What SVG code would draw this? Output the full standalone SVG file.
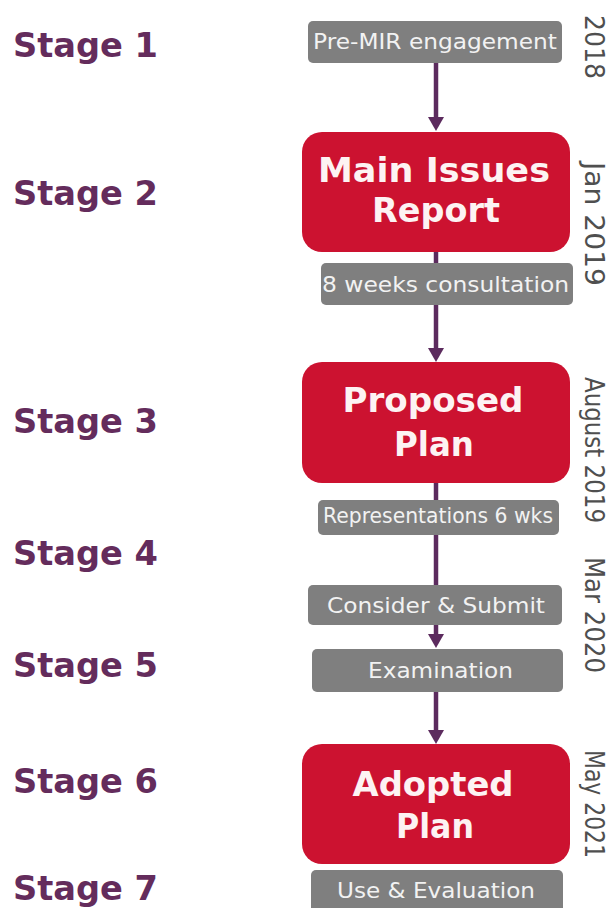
<svg xmlns="http://www.w3.org/2000/svg" width="609" height="908" viewBox="0 0 609 908">
<style>
.stage{font-family:"DejaVu Sans",Verdana,sans-serif;font-weight:bold;font-size:33px;fill:#642c5c}
.gbox{fill:#7f7f7f}
.rbox{fill:#cc1230}
.gt{font-family:"DejaVu Sans",Verdana,sans-serif;font-size:21px;fill:#f2f2f2}
.rt{font-family:"DejaVu Sans",Verdana,sans-serif;font-weight:bold;font-size:34px;fill:#fdf3f3;text-anchor:middle}
.date{font-family:"DejaVu Sans",Verdana,sans-serif;font-size:26px;fill:#4f4f4f}
.conn{stroke:#5c2b5e;stroke-width:4.5;fill:none}
</style>
<defs>
<marker id="ah" viewBox="0 0 14 16" markerWidth="14" markerHeight="16" refX="4" refY="8" orient="auto" markerUnits="userSpaceOnUse">
<path d="M0,0 L14,8 L0,16 z" fill="#5c2b5e"/>
</marker>
</defs>
<rect width="609" height="908" fill="#ffffff"/>

<g id="stages">
<text class="stage" x="13" y="57" textLength="145" lengthAdjust="spacingAndGlyphs">Stage 1</text>
<text class="stage" x="13" y="205" textLength="145" lengthAdjust="spacingAndGlyphs">Stage 2</text>
<text class="stage" x="13" y="433" textLength="145" lengthAdjust="spacingAndGlyphs">Stage 3</text>
<text class="stage" x="13" y="565" textLength="145" lengthAdjust="spacingAndGlyphs">Stage 4</text>
<text class="stage" x="13" y="677" textLength="145" lengthAdjust="spacingAndGlyphs">Stage 5</text>
<text class="stage" x="13" y="793" textLength="145" lengthAdjust="spacingAndGlyphs">Stage 6</text>
<text class="stage" x="13" y="900" textLength="145" lengthAdjust="spacingAndGlyphs">Stage 7</text>
</g>

<g id="connectors">
<line class="conn" x1="436" y1="63" x2="436" y2="121" marker-end="url(#ah)"/>
<line class="conn" x1="436" y1="251" x2="436" y2="264"/>
<line class="conn" x1="436" y1="305" x2="436" y2="352" marker-end="url(#ah)"/>
<line class="conn" x1="436" y1="482" x2="436" y2="501"/>
<line class="conn" x1="436" y1="535" x2="436" y2="586"/>
<line class="conn" x1="436" y1="625" x2="436" y2="638" marker-end="url(#ah)"/>
<line class="conn" x1="436" y1="692" x2="436" y2="734" marker-end="url(#ah)"/>
</g>

<g id="pre-mir">
<rect class="gbox" x="308" y="21" width="254" height="42" rx="5"/>
<text class="gt" x="313" y="49" textLength="244" lengthAdjust="spacingAndGlyphs">Pre-MIR engagement</text>
</g>

<g id="main-issues">
<rect class="rbox" x="302" y="132" width="268" height="120" rx="20"/>
<text class="rt" x="434" y="182" textLength="232" lengthAdjust="spacingAndGlyphs">Main Issues</text>
<text class="rt" x="436" y="222" textLength="128" lengthAdjust="spacingAndGlyphs">Report</text>
</g>

<g id="consultation">
<rect class="gbox" x="321" y="263" width="252" height="42" rx="5"/>
<text class="gt" x="322" y="292" font-size="22" textLength="247" lengthAdjust="spacingAndGlyphs">8 weeks consultation</text>
</g>

<g id="proposed">
<rect class="rbox" x="302" y="362" width="268" height="121" rx="20"/>
<text class="rt" x="433" y="412" textLength="181" lengthAdjust="spacingAndGlyphs">Proposed</text>
<text class="rt" x="434" y="456" textLength="80" lengthAdjust="spacingAndGlyphs">Plan</text>
</g>

<g id="representations">
<rect class="gbox" x="318" y="500" width="241" height="35" rx="5"/>
<text class="gt" x="323" y="523" font-size="19" textLength="230" lengthAdjust="spacingAndGlyphs">Representations 6 wks</text>
</g>

<g id="consider">
<rect class="gbox" x="308" y="585" width="254" height="40" rx="5"/>
<text class="gt" x="327" y="613" textLength="218" lengthAdjust="spacingAndGlyphs">Consider &amp; Submit</text>
</g>

<g id="examination">
<rect class="gbox" x="312" y="649" width="251" height="43" rx="5"/>
<text class="gt" x="368" y="678" textLength="145" lengthAdjust="spacingAndGlyphs">Examination</text>
</g>

<g id="adopted">
<rect class="rbox" x="302" y="744" width="268" height="120" rx="20"/>
<text class="rt" x="433" y="796" textLength="161" lengthAdjust="spacingAndGlyphs">Adopted</text>
<text class="rt" x="435" y="838" textLength="78" lengthAdjust="spacingAndGlyphs">Plan</text>
</g>

<g id="use">
<rect class="gbox" x="311" y="870" width="252" height="45" rx="5"/>
<text class="gt" x="337" y="898" textLength="198" lengthAdjust="spacingAndGlyphs">Use &amp; Evaluation</text>
</g>

<g id="dates">
<text class="date" transform="translate(585,15) rotate(90)" x="0" y="0" textLength="64" lengthAdjust="spacingAndGlyphs">2018</text>
<text class="date" transform="translate(585,162) rotate(90)" x="0" y="0" textLength="124" lengthAdjust="spacingAndGlyphs">Jan 2019</text>
<text class="date" transform="translate(585,377) rotate(90)" x="0" y="0" textLength="146" lengthAdjust="spacingAndGlyphs">August 2019</text>
<text class="date" transform="translate(585,557) rotate(90)" x="0" y="0" textLength="116" lengthAdjust="spacingAndGlyphs">Mar 2020</text>
<text class="date" transform="translate(585,750) rotate(90)" x="0" y="0" textLength="108" lengthAdjust="spacingAndGlyphs">May 2021</text>
</g>
</svg>
